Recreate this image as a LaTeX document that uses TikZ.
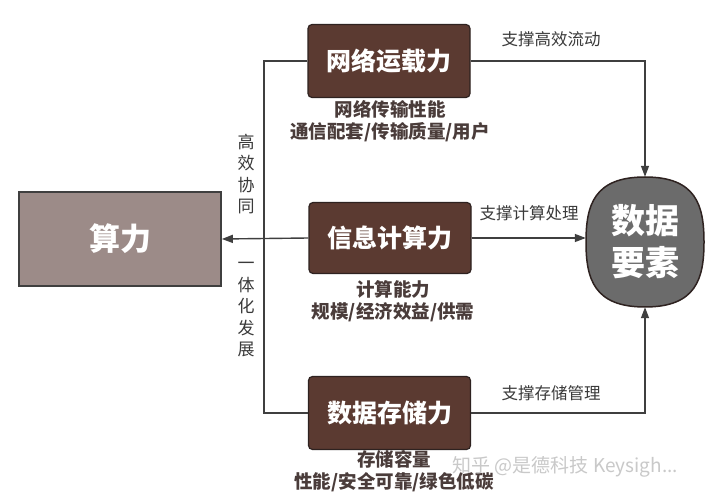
\documentclass[tikz,border=0pt]{standalone}
\usepackage{fontspec}
\setmainfont{Noto Sans CJK SC}
\usetikzlibrary{arrows.meta}
\definecolor{boxbrown}{HTML}{5B3A31}
\definecolor{boxedge}{HTML}{2E2220}
\definecolor{mauve}{HTML}{9C8B88}
\definecolor{datagray}{HTML}{6B6B6B}
\definecolor{linegray}{HTML}{3F3F3F}
\definecolor{subtext}{HTML}{4A3C3A}
\definecolor{labtext}{HTML}{3A3A3A}
\definecolor{wmark}{HTML}{C9C9C9}
\tikzset{
  brownbox/.style={draw=boxedge, line width=1.2pt, fill=boxbrown, rounded corners=4pt,
    minimum width=162pt, minimum height=73pt, text=white,
    font=\fontsize{25}{30}\selectfont\bfseries},
  mainbox/.style={draw=linegray, line width=1.6pt, fill=mauve, minimum width=202pt,
    minimum height=94pt, text=white, font=\fontsize{31}{36}\selectfont\bfseries},
  databox/.style={minimum width=118pt, minimum height=130pt, text=white, align=center,
    font=\fontsize{34}{42}\selectfont\bfseries},
  datashape/.style={draw=boxedge, line width=1.5pt, fill=datagray},
  conn/.style={draw=linegray, line width=1.4pt},
  arr/.style={conn, -{Triangle[length=11pt,width=8pt]}},
  sublab/.style={text=subtext, align=center, font=\fontsize{18.5}{22}\selectfont\bfseries},
  edgelab/.style={text=labtext, font=\fontsize{16.5}{20}\selectfont},
  vlab/.style={text=labtext, align=center, font=\fontsize{17}{21.5}\selectfont},
}
\begin{document}
\begin{tikzpicture}[x=1pt,y=-1pt]
\path[use as bounding box, fill=white] (0,0) rectangle (720,502);

\node[mainbox] (suanli) at (120,239) {算力};
\node[brownbox] (net) at (389,61) {网络运载力};
\node[brownbox, minimum height=71pt] (comp) at (390,238) {信息计算力};
\node[brownbox] (stor) at (389.5,413) {数据存储力};

\path[datashape] (645,177) .. controls (696,177) and (704,205) .. (704,242)
  .. controls (704,279) and (696,307) .. (645,307)
  .. controls (594,307) and (586,279) .. (586,242)
  .. controls (586,205) and (594,177) .. (645,177) -- cycle;
\node[databox] (data) at (645,242) {数据\\要素};

\coordinate (vtop) at (264,61);
\coordinate (vbot) at (264,413);
\coordinate (rtop) at (645,61);
\coordinate (rbot) at (645,413);

\draw[conn] (net.west) -- (vtop) -- (vbot) -- (stor.west);
\draw[arr] (comp.west) -- (suanli.east);
\draw[arr] (net.east) -- (rtop) -- (data.north);
\draw[arr] (comp.east) -- (comp.east -| data.west);
\draw[arr] (stor.east) -- (rbot) -- (data.south);

\node[edgelab] (l1) at (551,39) {支撑高效流动};
\node[edgelab] (l2) at (529,213) {支撑计算处理};
\node[edgelab] (l3) at (551,393) {支撑存储管理};

\node[sublab] (s1) at (390,121) {网络传输性能\\通信配套/传输质量/用户};
\node[sublab] (s2) at (393,301.5) {计算能力\\规模/经济效益/供需};
\node[sublab] (s3) at (394,471.5) {存储容量\\性能/安全可靠/绿色低碳};

\node[vlab] (v1) at (246,174) {高\\效\\协\\同};
\node[vlab] (v2) at (246,310) {一\\体\\化\\发\\展};

\node[text=wmark, font=\fontsize{19}{22}\selectfont, anchor=west] (wm) at (449,467) {知乎 @是德科技 Keysigh...};
\end{tikzpicture}
\end{document}
